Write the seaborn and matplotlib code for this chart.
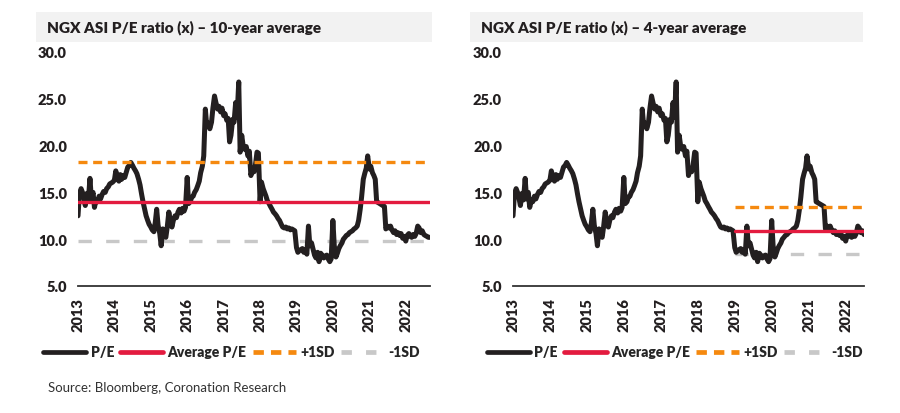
import pandas as pd
import numpy as np
import matplotlib
matplotlib.use("Agg")
import matplotlib.pyplot as plt
from matplotlib.patches import Rectangle
from matplotlib.lines import Line2D
import seaborn as sns

# ================================
# DATA (semi-monthly P/E readings)
# ================================
pe_2013 = [12.5, 14.8, 15.4, 15.0, 14.4, 13.6, 14.9, 14.2, 16.5, 14.3, 15.0, 13.4,
           14.2, 14.0, 14.6, 14.3, 14.8, 15.1, 15.0, 15.4, 15.6, 15.9, 16.0, 16.1]
pe_2014 = [16.3, 17.3, 16.5, 16.2, 16.9, 16.4, 16.8, 16.6, 17.2, 17.7, 17.9, 18.2,
           17.9, 17.6, 17.3, 17.0, 16.4, 15.8, 14.8, 14.0, 13.2, 12.5, 12.0, 11.6]
pe_2015 = [11.3, 11.0, 10.8, 11.8, 13.2, 11.5, 10.6, 9.3, 11.1, 10.5, 10.2, 11.3,
           12.9, 12.0, 11.3, 12.0, 12.5, 12.3, 12.9, 13.2, 12.8, 13.3, 13.0, 13.4]
pe_2016 = [16.6, 13.8, 14.0, 14.5, 14.6, 15.0, 15.3, 15.7, 16.2, 17.1, 17.8, 18.9,
           23.9, 22.1, 22.4, 21.8, 22.5, 24.0, 25.3, 24.6, 23.9, 24.2, 23.6, 24.0]
pe_2017 = [23.2, 23.4, 22.7, 22.9, 20.4, 21.1, 22.8, 22.5, 24.6, 23.0, 26.8, 19.3,
           21.1, 20.0, 19.6, 19.9, 18.9, 19.4, 16.8, 17.5, 17.2, 17.9, 19.3, 19.2]
pe_2018 = [14.0, 16.1, 15.4, 15.0, 14.6, 14.1, 13.8, 13.5, 13.2, 12.9, 12.7, 12.5,
           12.2, 12.0, 11.6, 11.3, 11.2, 11.3, 11.1, 11.2, 11.0, 11.1, 11.0, 10.9]
pe_2019 = [9.1, 8.6, 8.8, 8.9, 9.0, 8.6, 8.9, 8.4, 11.4, 9.3, 9.6, 9.0,
           8.3, 8.0, 8.6, 7.6, 8.5, 8.3, 8.0, 8.2, 8.3, 7.9, 7.6, 7.9]
pe_2020 = [12.0, 9.3, 8.1, 8.5, 9.0, 9.3, 9.6, 10.0, 10.2, 10.4, 10.5, 10.7,
           10.8, 10.9, 11.1, 11.2, 11.4, 12.0, 13.2, 14.5, 16.4, 17.0, 17.6, 18.9]
pe_2021 = [17.5, 17.8, 17.1, 16.8, 16.4, 14.0, 13.9, 13.8, 13.7, 13.6, 13.5, 11.1,
           11.4, 11.2, 11.4, 11.0, 10.7, 10.9, 10.5, 10.7, 10.4, 10.6, 10.1, 10.3]
pe_2022 = [9.8, 10.4, 10.6, 10.3, 10.2, 10.5, 10.3, 10.6, 11.4, 11.2, 10.7, 10.9,
           10.5, 10.4, 10.3, 10.2, 10.2]

pe_values = pe_2013 + pe_2014 + pe_2015 + pe_2016 + pe_2017 + pe_2018 + pe_2019 + pe_2020 + pe_2021 + pe_2022
dates = pd.date_range("2013-01-01", periods=len(pe_values), freq="SMS")
df = pd.DataFrame({"date": dates, "pe": pe_values})

# average / +-1SD levels
avg_10y, plus_sd_10y, minus_sd_10y = 14.0, 18.2, 9.8
avg_4y, plus_sd_4y, minus_sd_4y = 10.9, 13.4, 8.4
start_4y = pd.Timestamp("2019-01-01")
end_right = pd.Timestamp("2022-07-01")

titles = ["NGX ASI P/E ratio (x) \u2013 10-year average",
          "NGX ASI P/E ratio (x) \u2013 4-year average"]
legend_labels = ["P/E", "Average P/E", "+1SD", "-1SD"]
years = list(range(2013, 2023))
y_ticks = [5, 10, 15, 20, 25, 30]
source = "Source: Bloomberg, Coronation Research"

# ================================
# STYLE
# ================================
sns.set_theme(style="white")
plt.rcParams["font.family"] = ["Lato", "DejaVu Sans"]

c_pe = "#231f20"
c_avg = "#e31b3f"
c_up = "#f5890f"
c_dn = "#c8c8c8"
c_txt = "#231f20"
lw_pe = 3.6
lw_lvl = 2.4
heavy = 800

fig = plt.figure(figsize=(9, 4.14), dpi=100)


def draw_panel(rect, data, band_start, avg, up, dn, title, box, leg_x):
    ax = fig.add_axes(rect)
    sns.lineplot(data=data, x="date", y="pe", ax=ax, color=c_pe, lw=lw_pe, zorder=2)
    x0, x1 = band_start, data["date"].iloc[-1]
    ax.plot([x0, x1], [dn, dn], color=c_dn, lw=lw_lvl, dashes=(4, 4.3), zorder=1)
    ax.plot([x0, x1], [avg, avg], color=c_avg, lw=lw_lvl, zorder=3)
    ax.plot([x0, x1], [up, up], color=c_up, lw=lw_lvl, dashes=(2.7, 1.7), zorder=3)

    ax.set_xlim(data["date"].iloc[0], data["date"].iloc[-1])
    ax.set_ylim(5, 30)
    ax.set_yticks(y_ticks)
    ax.set_yticklabels([f"{v:.1f}" for v in y_ticks], fontsize=10.5, fontweight=heavy, color=c_txt)
    ax.set_xticks([pd.Timestamp(f"{y}-01-01") for y in years])
    ax.set_xticklabels([str(y) for y in years], rotation=90, fontsize=10.5,
                       fontweight=heavy, color=c_txt)
    ax.set_xlabel("")
    ax.set_ylabel("")
    for s in ["top", "right", "left"]:
        ax.spines[s].set_visible(False)
    ax.spines["bottom"].set_color("#333333")
    ax.spines["bottom"].set_linewidth(1.3)
    ax.tick_params(axis="x", direction="out", length=5, width=1.3, color="#333333", pad=3)
    ax.tick_params(axis="y", length=0, pad=8)

    # title band
    fig.add_artist(Rectangle((box[0], box[1]), box[2], box[3], transform=fig.transFigure,
                             facecolor="#f2f2f2", edgecolor="none", zorder=0))
    fig.text(box[0] + 11 / 900, box[1] + box[3] / 2, title, fontsize=11,
             fontweight=heavy, color=c_txt, va="center", ha="left")

    handles = [Line2D([], [], color=c_pe, lw=3.4),
               Line2D([], [], color=c_avg, lw=3.4),
               Line2D([], [], color=c_up, lw=3.4, dashes=(2.2, 1.5)),
               Line2D([], [], color=c_dn, lw=3.4, dashes=(2.2, 3.0))]
    fig.legend(handles, legend_labels, loc="center", bbox_to_anchor=(leg_x, 1 - 353 / 414),
               ncol=4, frameon=False, handlelength=3.1, handletextpad=0.3,
               columnspacing=0.45, prop={"weight": heavy, "size": 10})
    return ax


bottom = 1 - 287 / 414
height = (287 - 53) / 414

draw_panel([78 / 900, bottom, (430 - 78) / 900, height], df, df["date"].iloc[0],
           avg_10y, plus_sd_10y, minus_sd_10y, titles[0],
           (36 / 900, 1 - 43 / 414, (432 - 36) / 900, 30 / 414), 0.257)

df_right = df[df["date"] <= end_right]
draw_panel([513 / 900, bottom, (864 - 513) / 900, height], df_right, start_4y,
           avg_4y, plus_sd_4y, minus_sd_4y, titles[1],
           (470 / 900, 1 - 43 / 414, (863 - 470) / 900, 30 / 414), 0.75)

fig.text(48 / 900, 1 - 388 / 414, source, fontsize=9.5, color="#333333", va="center", ha="left")

fig.savefig("out.png", dpi=100)
